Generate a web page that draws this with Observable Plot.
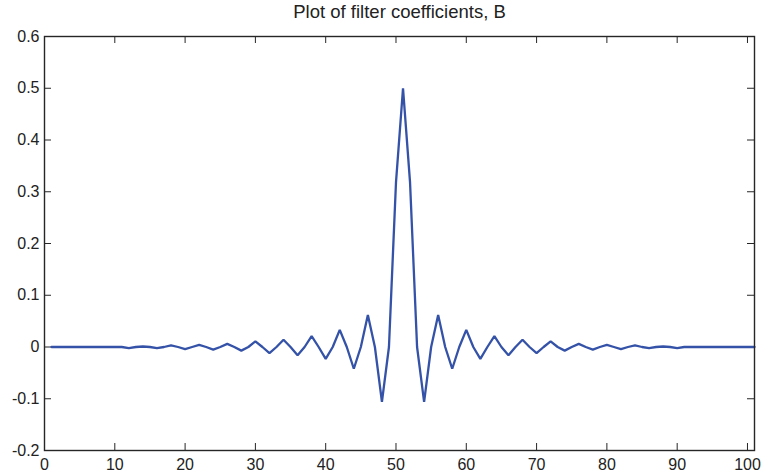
<!DOCTYPE html>
<html>
<head>
<meta charset="utf-8">
<script src="https://cdn.jsdelivr.net/npm/d3@7"></script>
<script src="https://cdn.jsdelivr.net/npm/@observablehq/plot@0.6"></script>
<style>
  html, body { margin: 0; padding: 0; background: #fff; }
  #chart { width: 761px; height: 475px; }
</style>
</head>
<body>
<div id="chart"></div>
<script>
// Filter coefficients B(n), n = 1..101
const B = [
  0, 0, 0, 0, 0, 0, 0, 0, 0, 0,
  0, -0.002, 0, 0.001, 0, -0.002, 0, 0.003, 0, -0.004,
  0, 0.004, 0, -0.005, 0, 0.006, 0, -0.007, 0, 0.011,
  0, -0.012, 0, 0.014, 0, -0.016, 0, 0.021, 0, -0.023,
  0, 0.033, 0, -0.042, 0, 0.062, 0, -0.106, 0, 0.318,
  0.5,
  0.318, 0, -0.106, 0, 0.062, 0, -0.042, 0, 0.033, 0,
  -0.023, 0, 0.021, 0, -0.016, 0, 0.014, 0, -0.012, 0,
  0.011, 0, -0.007, 0, 0.006, 0, -0.005, 0, 0.004, 0,
  -0.004, 0, 0.003, 0, -0.002, 0, 0.001, 0, -0.002, 0,
  0, 0, 0, 0, 0, 0, 0, 0, 0, 0
];
const xTicks = [0, 10, 20, 30, 40, 50, 60, 70, 80, 90, 100];
const yTicks = [-0.2, -0.1, 0, 0.1, 0.2, 0.3, 0.4, 0.5, 0.6];
const title = "Plot of filter coefficients, B";

const data = B.map((b, i) => ({n: i + 1, b}));

const W = 761, H = 475;
const mL = 44, mR = 7, mT = 36, mB = 25;
const frameH = H - mT - mB, frameW = W - mL - mR;
const tick = 7;
const fmt = d => String(Math.round(d * 10) / 10);
const axisColor = "#262626";

const chart = Plot.plot({
  width: W,
  height: H,
  marginLeft: mL,
  marginRight: mR,
  marginTop: mT,
  marginBottom: mB,
  style: {fontFamily: "'Liberation Sans', Arial, Helvetica, sans-serif", fontSize: "16px", color: "#222", background: "#fff"},
  x: {domain: [0, 101]},
  y: {domain: [-0.2, 0.6]},
  marks: [
    Plot.axisX(xTicks, {anchor: "bottom", tickSize: 0, tickPadding: 8, tickFormat: fmt, label: null, fontSize: 16}),
    Plot.axisY(yTicks, {anchor: "left", tickSize: 0, tickPadding: 5, tickFormat: fmt, label: null, fontSize: 16}),
    // inward ticks on all four sides (MATLAB style)
    Plot.tickX(xTicks, {x: d => d, insetTop: frameH - tick, stroke: axisColor}),
    Plot.tickX(xTicks, {x: d => d, insetBottom: frameH - tick, stroke: axisColor}),
    Plot.tickY(yTicks, {y: d => d, insetRight: frameW - tick, stroke: axisColor}),
    Plot.tickY(yTicks, {y: d => d, insetLeft: frameW - tick, stroke: axisColor}),
    Plot.line(data, {x: "n", y: "b", stroke: "#3452a7", strokeWidth: 2.3, strokeLinejoin: "miter"}),
    Plot.frame({stroke: axisColor, strokeWidth: 1.4}),
    Plot.text([title], {frameAnchor: "top", dy: -19, fontSize: 18.5, fill: "#222", lineAnchor: "bottom"})
  ]
});
document.getElementById("chart").appendChild(chart);
</script>
</body>
</html>
